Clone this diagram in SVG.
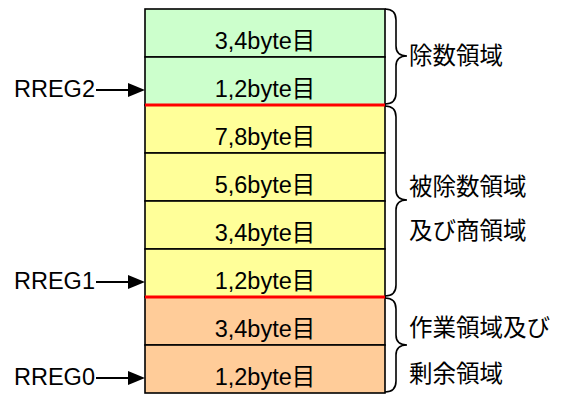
<svg xmlns="http://www.w3.org/2000/svg" width="566" height="394" viewBox="0 0 566 394">
<style>
.t{font-family:"Liberation Sans","Noto Sans CJK JP",sans-serif;font-size:23.5px;fill:#000}
.c{text-anchor:middle}
.cell{stroke:#000;stroke-width:1.6}
.g{fill:#CCFFCC}.y{fill:#FFFF99}.o{fill:#FFCC99}
.red{stroke:#FF0000;stroke-width:3}
.br{fill:none;stroke:#000;stroke-width:1.6}
.ar{stroke:#000;stroke-width:1.8}
.ah{fill:#000}
</style>
<g id="divisor">
<rect class="cell g" x="145" y="9" width="240" height="48"/>
<text class="t c" x="265" y="49">3,4byte目</text>
<rect class="cell g" x="145" y="57" width="240" height="48"/>
<text class="t c" x="265" y="97">1,2byte目</text>
</g>
<g id="dividend">
<rect class="cell y" x="145" y="105" width="240" height="48"/>
<text class="t c" x="265" y="145">7,8byte目</text>
<rect class="cell y" x="145" y="153" width="240" height="48"/>
<text class="t c" x="265" y="193">5,6byte目</text>
<rect class="cell y" x="145" y="201" width="240" height="48"/>
<text class="t c" x="265" y="241">3,4byte目</text>
<rect class="cell y" x="145" y="249" width="240" height="48"/>
<text class="t c" x="265" y="289">1,2byte目</text>
</g>
<g id="work">
<rect class="cell o" x="145" y="297" width="240" height="48"/>
<text class="t c" x="265" y="337">3,4byte目</text>
<rect class="cell o" x="145" y="345" width="240" height="48"/>
<text class="t c" x="265" y="385">1,2byte目</text>
</g>
<g id="boundaries">
<line class="red" x1="145" y1="105" x2="385" y2="105"/>
<line class="red" x1="145" y1="297" x2="385" y2="297"/>
</g>
<g id="rreg2"><text class="t" x="14" y="97">RREG2</text></g>
<g id="rreg1"><text class="t" x="14" y="289">RREG1</text></g>
<g id="rreg0"><text class="t" x="14" y="385">RREG0</text></g>
<g id="connectors">
<line class="ar" x1="96" y1="90" x2="130" y2="90"/>
<polygon class="ah" points="128,83 145,90 128,97"/>
<line class="ar" x1="96" y1="282" x2="130" y2="282"/>
<polygon class="ah" points="128,275 145,282 128,289"/>
<line class="ar" x1="96" y1="378" x2="130" y2="378"/>
<polygon class="ah" points="128,371 145,378 128,385"/>
</g>
<g id="brace-divisor">
<path class="br" d="M385,9 Q396,9 396,20 L396,46 Q396,56 407,56 Q396,56 396,66 L396,93 Q396,104 385,104"/>
<text class="t" x="409" y="64">除数領域</text>
</g>
<g id="brace-dividend">
<path class="br" d="M385,106 Q396,106 396,117 L396,190 Q396,200 407,200 Q396,200 396,210 L396,285 Q396,296 385,296"/>
<text class="t" x="409" y="195">被除数領域</text>
<text class="t" x="409" y="239">及び商領域</text>
</g>
<g id="brace-work">
<path class="br" d="M385,298 Q396,298 396,309 L396,335 Q396,345 407,345 Q396,345 396,355 L396,381 Q396,392 385,392"/>
<text class="t" x="409" y="336">作業領域及び</text>
<text class="t" x="409" y="382">剰余領域</text>
</g>
</svg>
